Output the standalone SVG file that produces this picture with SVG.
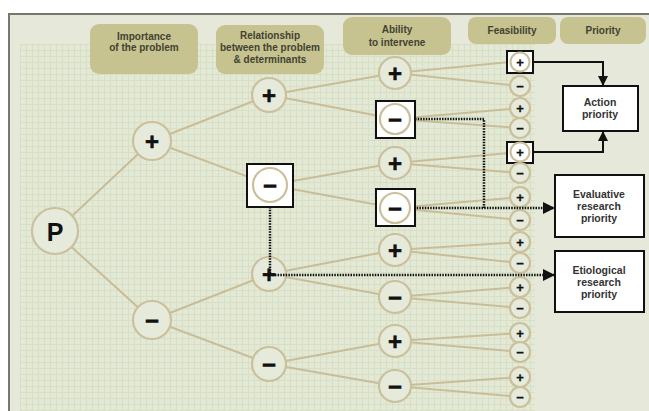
<svg xmlns="http://www.w3.org/2000/svg" width="649" height="411" viewBox="0 0 649 411">
  <defs>
    <pattern id="grid" x="20" y="44" width="6" height="6" patternUnits="userSpaceOnUse">
      <rect width="6" height="6" fill="#e4e9d6"/>
      <path d="M0 0.5H6M0.5 0V6" stroke="#d7e0c6" stroke-width="1" fill="none"/>
    </pattern>
    <marker id="ah" viewBox="0 0 10 10" refX="10" refY="5" markerWidth="5" markerHeight="5" markerUnits="strokeWidth" orient="auto">
      <path d="M0 0L10 5L0 10Z" fill="#111"/>
    </marker>
    <style>
      .hdr{fill:#c6c391;}
      .ht{font-family:"Liberation Sans",Arial,sans-serif;font-weight:bold;font-size:10px;fill:#424230;text-anchor:middle;}
      .bt{font-family:"Liberation Sans",Arial,sans-serif;font-weight:bold;font-size:10.5px;fill:#333;text-anchor:middle;}
      .tree{stroke:#c9bd98;stroke-width:2;fill:none;}
      .c{fill:#e6eada;stroke:#cbc09c;stroke-width:2.2;}
      .cw{fill:#fff;stroke:#cbc09c;stroke-width:2.2;}
      .bx{fill:#fff;stroke:#111;stroke-width:2;}
      .sym{font-family:"Liberation Sans",Arial,sans-serif;font-weight:bold;fill:#111;text-anchor:middle;dominant-baseline:central;}
      .big{font-size:24px;stroke:#111;stroke-width:0.6;}
      .sm{font-size:13px;stroke:#111;stroke-width:0.3;}
      .dot{stroke:#111;stroke-width:2.5;stroke-dasharray:1.5 1.2;fill:none;}
      .sol{stroke:#111;stroke-width:2;fill:none;}
    </style>
  </defs>

  <rect width="649" height="411" fill="#fff"/>
  <rect x="9" y="14" width="640" height="397" fill="#e6e8d9"/>
  <rect x="20" y="44" width="515" height="367" fill="url(#grid)"/>
  <path d="M9 411V14H649" stroke="#77776d" stroke-width="2" fill="none"/>

  <g id="headers">
    <g id="h-importance"><rect class="hdr" x="90" y="24" width="108" height="50" rx="9"/>
      <text class="ht" x="144" y="40">Importance</text><text class="ht" x="144" y="51">of the problem</text></g>
    <g id="h-relationship"><rect class="hdr" x="216" y="25" width="108" height="49" rx="9"/>
      <text class="ht" x="270" y="39">Relationship</text><text class="ht" x="270" y="51">between the problem</text><text class="ht" x="270" y="63">&amp; determinants</text></g>
    <g id="h-ability"><rect class="hdr" x="343" y="17" width="108" height="38" rx="9"/>
      <text class="ht" x="397" y="33">Ability</text><text class="ht" x="397" y="46">to intervene</text></g>
    <g id="h-feasibility"><rect class="hdr" x="468" y="17" width="88" height="27" rx="8"/>
      <text class="ht" x="512" y="34">Feasibility</text></g>
    <g id="h-priority"><rect class="hdr" x="560" y="17" width="86" height="27" rx="8"/>
      <text class="ht" x="603" y="34">Priority</text></g>
  </g>

  <g id="tree-connectors" class="tree">
    <path d="M55 232L152 141M55 232L152 320"/>
    <path d="M152 141L269 95M152 141L270 185M152 320L269 274M152 320L269 364"/>
    <path d="M269 95L395 73M269 95L395 119M270 185L395 163M270 185L395 208M269 274L395 250M269 274L395 297M269 364L395 341M269 364L395 386"/>
    <path d="M395 73L520 61M395 73L520 86M395 119L520 108M395 119L520 128M395 163L520 152M395 163L520 173M395 208L520 197M395 208L520 220M395 250L520 242M395 250L520 263M395 297L520 287M395 297L520 308M395 341L520 333M395 341L520 352M395 386L520 377M395 386L520 397"/>
  </g>

  <g id="n-P"><circle class="c" cx="55" cy="231" r="23"/><text class="sym" x="55" y="232" font-size="25">P</text></g>
  <g id="n-1p"><circle class="c" cx="152" cy="141" r="19"/><text class="sym big" x="152" y="141">+</text></g>
  <g id="n-1m"><circle class="c" cx="152" cy="320" r="19"/><text class="sym big" x="152" y="320">−</text></g>

  <g id="n-2p-a"><circle class="c" cx="269" cy="95" r="17"/><text class="sym big" x="269" y="95">+</text></g>
  <g id="n-2m-a"><rect class="bx" x="247" y="164" width="46" height="43"/><circle class="cw" cx="270" cy="185" r="17"/><text class="sym big" x="270" y="185">−</text></g>
  <g id="n-2p-b"><circle class="c" cx="269" cy="274" r="17"/><text class="sym big" x="269" y="274">+</text></g>
  <g id="n-2m-b"><circle class="c" cx="269" cy="364" r="17"/><text class="sym big" x="269" y="364">−</text></g>

  <g id="n-3-1"><circle class="c" cx="395" cy="73" r="16"/><text class="sym big" x="395" y="73">+</text></g>
  <g id="n-3-2"><rect class="bx" x="376" y="101" width="39" height="37"/><circle class="cw" cx="395" cy="119" r="15"/><text class="sym big" x="395" y="119">−</text></g>
  <g id="n-3-3"><circle class="c" cx="395" cy="163" r="16"/><text class="sym big" x="395" y="163">+</text></g>
  <g id="n-3-4"><rect class="bx" x="376" y="189" width="39" height="37"/><circle class="cw" cx="395" cy="208" r="15"/><text class="sym big" x="395" y="208">−</text></g>
  <g id="n-3-5"><circle class="c" cx="395" cy="250" r="16"/><text class="sym big" x="395" y="250">+</text></g>
  <g id="n-3-6"><circle class="c" cx="395" cy="297" r="16"/><text class="sym big" x="395" y="297">−</text></g>
  <g id="n-3-7"><circle class="c" cx="395" cy="341" r="16"/><text class="sym big" x="395" y="341">+</text></g>
  <g id="n-3-8"><circle class="c" cx="395" cy="386" r="16"/><text class="sym big" x="395" y="386">−</text></g>

  <g id="n-4-1"><rect class="bx" x="507" y="51" width="26" height="22"/><circle class="cw" cx="520" cy="62" r="9.5"/><text class="sym sm" x="520" y="62">+</text></g>
  <g id="n-4-2"><circle class="c" cx="520" cy="86" r="10"/><text class="sym sm" x="520" y="86">−</text></g>
  <g id="n-4-3"><circle class="c" cx="520" cy="108" r="10"/><text class="sym sm" x="520" y="108">+</text></g>
  <g id="n-4-4"><circle class="c" cx="520" cy="128" r="10"/><text class="sym sm" x="520" y="128">−</text></g>
  <g id="n-4-5"><rect class="bx" x="507" y="142" width="26" height="21"/><circle class="cw" cx="520" cy="152" r="9.5"/><text class="sym sm" x="520" y="152">+</text></g>
  <g id="n-4-6"><circle class="c" cx="520" cy="173" r="10"/><text class="sym sm" x="520" y="173">−</text></g>
  <g id="n-4-7"><circle class="c" cx="520" cy="197" r="10"/><text class="sym sm" x="520" y="197">+</text></g>
  <g id="n-4-8"><circle class="c" cx="520" cy="220" r="10"/><text class="sym sm" x="520" y="220">−</text></g>
  <g id="n-4-9"><circle class="c" cx="520" cy="242" r="10"/><text class="sym sm" x="520" y="242">+</text></g>
  <g id="n-4-10"><circle class="c" cx="520" cy="263" r="10"/><text class="sym sm" x="520" y="263">−</text></g>
  <g id="n-4-11"><circle class="c" cx="520" cy="287" r="10"/><text class="sym sm" x="520" y="287">+</text></g>
  <g id="n-4-12"><circle class="c" cx="520" cy="308" r="10"/><text class="sym sm" x="520" y="308">−</text></g>
  <g id="n-4-13"><circle class="c" cx="520" cy="333" r="10"/><text class="sym sm" x="520" y="333">+</text></g>
  <g id="n-4-14"><circle class="c" cx="520" cy="352" r="10"/><text class="sym sm" x="520" y="352">−</text></g>
  <g id="n-4-15"><circle class="c" cx="520" cy="377" r="10"/><text class="sym sm" x="520" y="377">+</text></g>
  <g id="n-4-16"><circle class="c" cx="520" cy="397" r="10"/><text class="sym sm" x="520" y="397">−</text></g>

  <g id="action-priority"><rect class="bx" x="563" y="86" width="75" height="45"/>
    <text class="bt" x="600" y="106">Action</text><text class="bt" x="600" y="118">priority</text></g>
  <g id="evaluative-priority"><rect class="bx" x="555" y="175" width="89" height="62"/>
    <text class="bt" x="599" y="198">Evaluative</text><text class="bt" x="599" y="210">research</text><text class="bt" x="599" y="222">priority</text></g>
  <g id="etiological-priority"><rect class="bx" x="555" y="251" width="89" height="61"/>
    <text class="bt" x="599" y="274">Etiological</text><text class="bt" x="599" y="286">research</text><text class="bt" x="599" y="298">priority</text></g>

  <g id="priority-connectors">
    <path class="sol" d="M533 62H603V86" marker-end="url(#ah)"/>
    <path class="sol" d="M533 152H603V131" marker-end="url(#ah)"/>
    <path class="dot" d="M415 119H484V208"/>
    <path class="dot" d="M414 208H555" marker-end="url(#ah)"/>
    <path class="dot" d="M270 207V275H555" marker-end="url(#ah)"/>
  </g>
</svg>
